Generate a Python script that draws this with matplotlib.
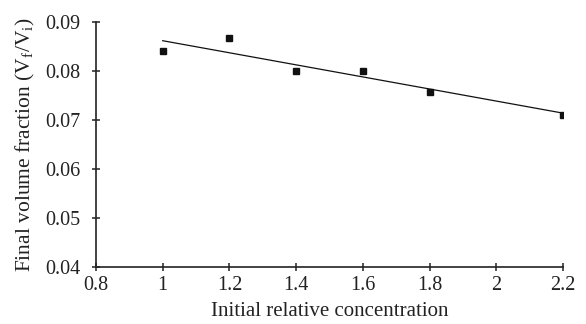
import numpy as np
import matplotlib
matplotlib.use("Agg")
import matplotlib.pyplot as plt

# Data
concentration = [1.0, 1.2, 1.4, 1.6, 1.8, 2.2]
volume_fraction = [0.0840, 0.0867, 0.0799, 0.0800, 0.0757, 0.0710]

x_ticks = [0.8, 1, 1.2, 1.4, 1.6, 1.8, 2, 2.2]
x_tick_labels = ["0.8", "1", "1.2", "1.4", "1.6", "1.8", "2", "2.2"]
y_ticks = [0.04, 0.05, 0.06, 0.07, 0.08, 0.09]

plt.rcParams['font.family'] = ['Liberation Serif', 'DejaVu Serif']
plt.rcParams['mathtext.fontset'] = 'custom'
plt.rcParams['mathtext.rm'] = 'Liberation Serif'

fig = plt.figure(figsize=(5.86, 3.24), dpi=100)
ax = fig.add_axes([0.1638, 0.177, 0.797, 0.756])

ax.plot(concentration, volume_fraction, 's', color='#111111', markersize=4.5, zorder=3)

# linear trendline
slope, intercept = np.polyfit(concentration, volume_fraction, 1)
xs = np.array([min(concentration), max(concentration)])
ax.plot(xs, slope * xs + intercept, color='#111111', linewidth=0.9)

ax.set_xlim(0.8, 2.2)
ax.set_ylim(0.04, 0.09)
ax.set_xticks(x_ticks)
ax.set_xticklabels(x_tick_labels)
ax.set_yticks(y_ticks)
ax.set_yticklabels(["%.2f" % v for v in y_ticks])

for side in ['top', 'right']:
    ax.spines[side].set_visible(False)
for side in ['left', 'bottom']:
    ax.spines[side].set_linewidth(1.2)
    ax.spines[side].set_color('#222222')

ax.tick_params(direction='inout', length=6, width=1.1, labelsize=14.5, colors='#222222')
ax.tick_params(axis='x', pad=4)
ax.tick_params(axis='y', pad=8)

ax.set_xlabel('Initial relative concentration', fontsize=15, color='#222222', labelpad=5)
ax.set_ylabel(r'Final volume fraction (V$_\mathrm{f}$/V$_\mathrm{i}$)', fontsize=15.5, color='#222222', labelpad=6)

fig.savefig('out.png', dpi=100)
